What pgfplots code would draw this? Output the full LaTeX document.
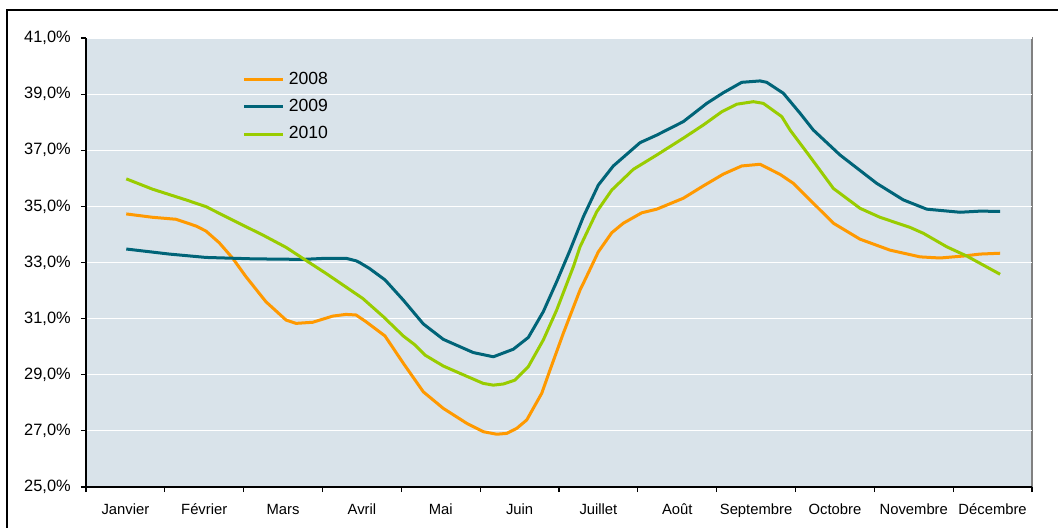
\documentclass[border=0pt]{standalone}
\usepackage{pgfplots}
\pgfplotsset{compat=1.18}
\usepackage{fontspec}
\setmainfont{Liberation Sans}
\definecolor{c2008}{RGB}{255,153,0}
\definecolor{c2009}{RGB}{0,100,120}
\definecolor{c2010}{RGB}{153,204,0}
\definecolor{plotbg}{RGB}{217,227,234}

\begin{document}
\begin{tikzpicture}
\path[use as bounding box] (0,0) rectangle (529pt,264pt);
\draw[line width=1pt] (3.5pt,-5pt) -- (3.5pt,259pt) -- (535pt,259pt);
\begin{axis}[
  at={(43pt,20.5pt)}, anchor=south west,
  scale only axis, width=473pt, height=224.5pt,
  xmin=0, xmax=12, ymin=25, ymax=41,
  axis x line*=bottom, axis y line*=left,
  axis line style={line width=0.7pt, black},
  axis background/.style={fill=plotbg, draw=gray, line width=0.6pt},
  tick align=outside,
  major tick length=2.6pt,
  tick style={black, line width=0.6pt},
  xtick={0,1,...,12}, xticklabels={},
  extra x ticks={0.5,1.5,...,11.5},
  extra x tick labels={Janvier,Février,Mars,Avril,Mai,Juin,Juillet,Août,Septembre,Octobre,Novembre,Décembre},
  extra x tick style={major tick length=0pt, grid=none},
  ytick={25,27,...,41},
  yticklabels={25{,}0\%,27{,}0\%,29{,}0\%,31{,}0\%,33{,}0\%,35{,}0\%,37{,}0\%,39{,}0\%,41{,}0\%},
  ymajorgrids, grid style={white, line width=0.6pt},
  xticklabel style={font=\fontsize{7.4}{9}\selectfont, text height=1.6ex, text depth=0.3ex, yshift=-1.6pt},
  yticklabel style={font=\fontsize{8.2}{10}\selectfont, xshift=-1.5pt},
  legend style={at={(rel axis cs:0.159,0.943)}, anchor=north west, draw=none, fill=none,
    font=\fontsize{8.8}{10}\selectfont, row sep=2pt},
  legend cell align=left,
  legend image code/.code={\draw[#1] (0pt,0pt) -- (19.5pt,0pt);},
  every axis plot/.append style={line width=1.5pt, no markers, line join=round},
]
\addplot[c2008] coordinates {
(0.511,34.73) (0.846,34.61) (1.142,34.54) (1.395,34.30) (1.522,34.12) (1.691,33.70)
(1.861,33.15) (2.030,32.49) (2.283,31.60) (2.537,30.95) (2.664,30.83) (2.876,30.87)
(3.130,31.09) (3.298,31.15) (3.425,31.13) (3.552,30.89) (3.793,30.38) (4.025,29.41)
(4.279,28.39) (4.533,27.80) (4.829,27.27) (5.040,26.97) (5.210,26.88) (5.337,26.91)
(5.464,27.09) (5.591,27.39) (5.781,28.34) (5.886,29.17) (6.055,30.48) (6.267,32.02)
(6.309,32.26) (6.499,33.38) (6.669,34.06) (6.816,34.40) (7.049,34.77) (7.240,34.90)
(7.577,35.29) (7.831,35.73) (8.085,36.15) (8.318,36.44) (8.550,36.50) (8.804,36.14)
(8.973,35.82) (9.184,35.23) (9.480,34.40) (9.819,33.83) (10.199,33.44) (10.580,33.20)
(10.833,33.16) (11.129,33.23) (11.341,33.30) (11.595,33.33)
};
\addlegendentry{2008}
\addplot[c2009] coordinates {
(0.511,33.48) (1.057,33.30) (1.522,33.18) (2.115,33.13) (2.749,33.11) (3.045,33.15)
(3.298,33.15) (3.425,33.06) (3.476,32.99) (3.594,32.79) (3.793,32.38) (4.025,31.66)
(4.279,30.81) (4.533,30.26) (4.913,29.79) (5.167,29.64) (5.421,29.91) (5.611,30.33)
(5.801,31.25) (5.971,32.32) (6.140,33.44) (6.309,34.63) (6.499,35.76) (6.689,36.44)
(7.028,37.27) (7.240,37.54) (7.577,38.02) (7.874,38.67) (8.085,39.05) (8.318,39.42)
(8.550,39.47) (8.635,39.42) (8.846,39.03) (9.057,38.32) (9.226,37.72) (9.565,36.83)
(10.030,35.82) (10.368,35.23) (10.665,34.90) (11.087,34.79) (11.341,34.83) (11.595,34.82)
};
\addlegendentry{2009}
\addplot[c2010] coordinates {
(0.511,35.98) (0.846,35.61) (1.269,35.23) (1.522,34.99) (1.903,34.45) (2.242,33.98)
(2.537,33.54) (2.749,33.15) (3.045,32.61) (3.510,31.72) (3.771,31.07) (4.025,30.38)
(4.174,30.06) (4.300,29.70) (4.533,29.31) (4.744,29.05) (5.040,28.69) (5.167,28.63)
(5.294,28.67) (5.442,28.81) (5.611,29.29) (5.801,30.24) (5.971,31.31) (6.182,32.85)
(6.267,33.56) (6.479,34.81) (6.669,35.58) (6.943,36.32) (7.240,36.83) (7.577,37.43)
(7.831,37.90) (8.064,38.37) (8.254,38.64) (8.465,38.73) (8.592,38.67) (8.825,38.20)
(8.931,37.72) (9.184,36.77) (9.480,35.64) (9.819,34.93) (10.072,34.61) (10.453,34.25)
(10.622,34.04) (10.918,33.56) (11.172,33.23) (11.595,32.58)
};
\addlegendentry{2010}
\end{axis}
\end{tikzpicture}
\end{document}
